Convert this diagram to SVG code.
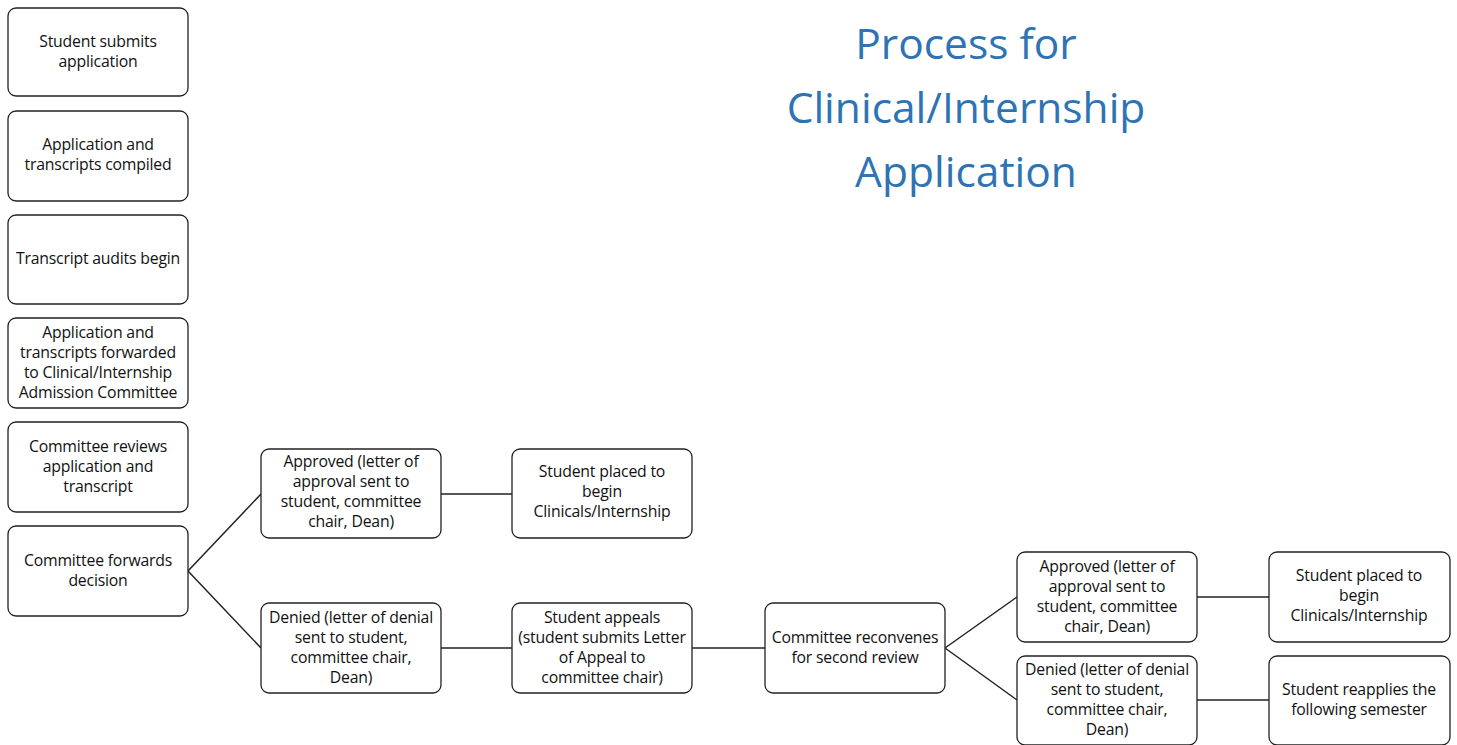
<svg xmlns="http://www.w3.org/2000/svg" width="1457" height="745" viewBox="0 0 1457 745">
<style>
.box{fill:#fff;stroke:#222;stroke-width:1.3}
.t{font-family:"Open Sans","Noto Sans",sans-serif;font-size:15.8px;fill:#111;text-anchor:middle;letter-spacing:-0.2px}
.title{font-family:"Open Sans","Noto Sans",sans-serif;font-size:42.5px;fill:#2E74B5;text-anchor:middle}
.c{stroke:#222;stroke-width:1.5;fill:none}
</style>
<rect width="1457" height="745" fill="#fff"/>
<g id="title"><text class="title" x="966" y="59">Process for</text><text class="title" x="966" y="123">Clinical/Internship</text><text class="title" x="966" y="187">Application</text></g>
<g id="connectors">
<path class="c" d="M188,571 L261,494 M188,571 L261,648 M441,494 H512 M441,648 H512 M692,648 H765 M945,648 L1017,597 M945,648 L1017,700 M1197,597 H1269 M1197,700 H1269"/>
</g>
<g id="n1"><rect class="box" x="8" y="8" width="180" height="88" rx="8"/><text class="t" x="98" y="47">Student submits</text><text class="t" x="98" y="67">application</text></g>
<g id="n2"><rect class="box" x="8" y="111" width="180" height="90" rx="8"/><text class="t" x="98" y="150">Application and</text><text class="t" x="98" y="170">transcripts compiled</text></g>
<g id="n3"><rect class="box" x="8" y="215" width="180" height="89" rx="8"/><text class="t" x="98" y="264">Transcript audits begin</text></g>
<g id="n4"><rect class="box" x="8" y="318" width="180" height="90" rx="8"/><text class="t" x="98" y="338">Application and</text><text class="t" x="98" y="358">transcripts forwarded</text><text class="t" x="98" y="378">to Clinical/Internship</text><text class="t" x="98" y="398">Admission Committee</text></g>
<g id="n5"><rect class="box" x="8" y="422" width="180" height="90" rx="8"/><text class="t" x="98" y="452">Committee reviews</text><text class="t" x="98" y="472">application and</text><text class="t" x="98" y="492">transcript</text></g>
<g id="n6"><rect class="box" x="8" y="526" width="180" height="90" rx="8"/><text class="t" x="98" y="566">Committee forwards</text><text class="t" x="98" y="586">decision</text></g>
<g id="n7"><rect class="box" x="261" y="449" width="180" height="89" rx="8"/><text class="t" x="351" y="467">Approved (letter of</text><text class="t" x="351" y="487">approval sent to</text><text class="t" x="351" y="507">student, committee</text><text class="t" x="351" y="527">chair, Dean)</text></g>
<g id="n8"><rect class="box" x="512" y="449" width="180" height="89" rx="8"/><text class="t" x="602" y="477">Student placed to</text><text class="t" x="602" y="497">begin</text><text class="t" x="602" y="517">Clinicals/Internship</text></g>
<g id="n9"><rect class="box" x="261" y="603" width="180" height="90" rx="8"/><text class="t" x="351" y="623">Denied (letter of denial</text><text class="t" x="351" y="643">sent to student,</text><text class="t" x="351" y="663">committee chair,</text><text class="t" x="351" y="683">Dean)</text></g>
<g id="n10"><rect class="box" x="512" y="603" width="180" height="90" rx="8"/><text class="t" x="602" y="623">Student appeals</text><text class="t" x="602" y="643">(student submits Letter</text><text class="t" x="602" y="663">of Appeal to</text><text class="t" x="602" y="683">committee chair)</text></g>
<g id="n11"><rect class="box" x="765" y="603" width="180" height="90" rx="8"/><text class="t" x="855" y="643">Committee reconvenes</text><text class="t" x="855" y="663">for second review</text></g>
<g id="n12"><rect class="box" x="1017" y="552" width="180" height="90" rx="8"/><text class="t" x="1107" y="572">Approved (letter of</text><text class="t" x="1107" y="592">approval sent to</text><text class="t" x="1107" y="612">student, committee</text><text class="t" x="1107" y="632">chair, Dean)</text></g>
<g id="n13"><rect class="box" x="1269" y="552" width="181" height="90" rx="8"/><text class="t" x="1359" y="581">Student placed to</text><text class="t" x="1359" y="601">begin</text><text class="t" x="1359" y="621">Clinicals/Internship</text></g>
<g id="n14"><rect class="box" x="1017" y="656" width="180" height="89" rx="8"/><text class="t" x="1107" y="675">Denied (letter of denial</text><text class="t" x="1107" y="695">sent to student,</text><text class="t" x="1107" y="715">committee chair,</text><text class="t" x="1107" y="735">Dean)</text></g>
<g id="n15"><rect class="box" x="1269" y="656" width="181" height="89" rx="8"/><text class="t" x="1359" y="695">Student reapplies the</text><text class="t" x="1359" y="715">following semester</text></g>
</svg>
